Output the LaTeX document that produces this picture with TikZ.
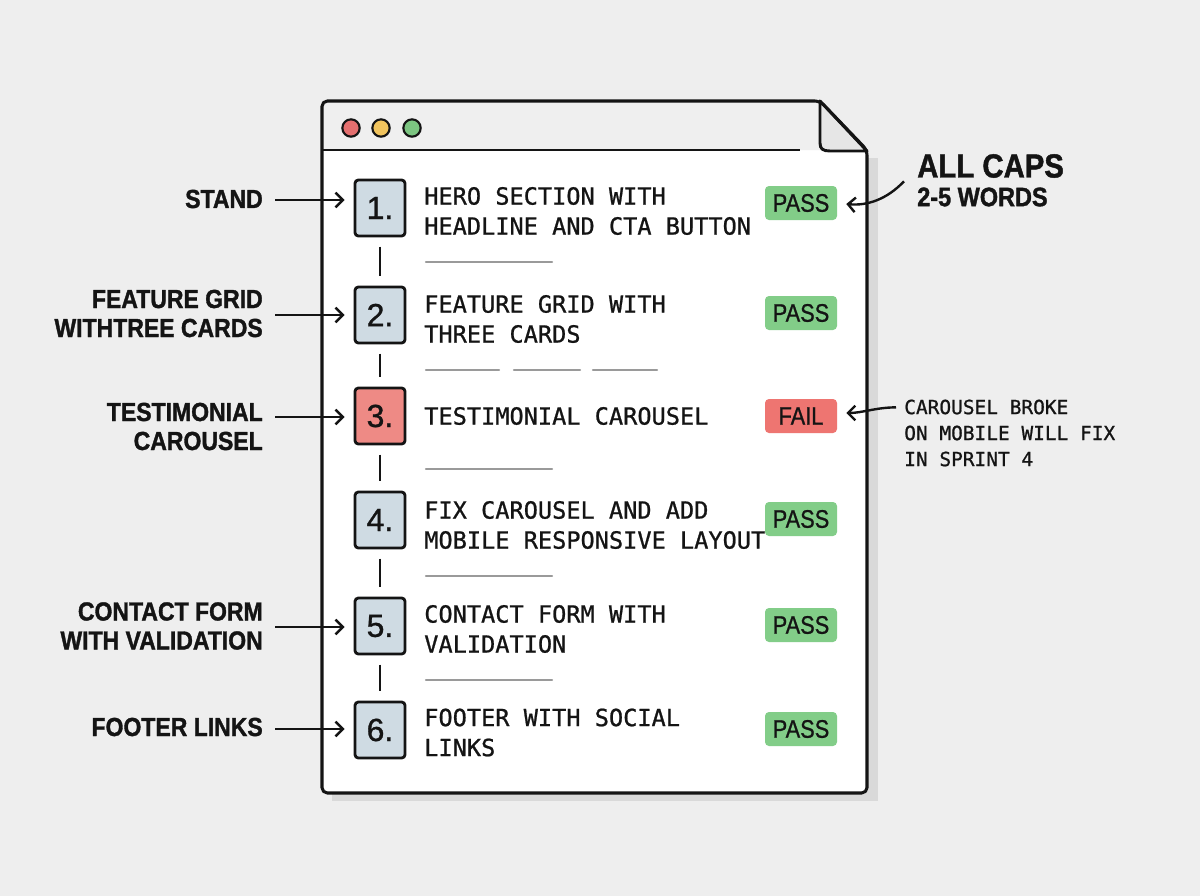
\documentclass[tikz,border=0pt]{standalone}
\usepackage{fontspec}
\usetikzlibrary{arrows.meta,calc}
\newfontfamily\monof{DejaVu Sans Mono}[FakeBold=0.9]
\newfontfamily\lblf{Liberation Sans}[FakeStretch=0.88,FakeBold=1.3]
\newfontfamily\badgef{Liberation Sans}[FakeStretch=0.86,FakeBold=0.9]
\newfontfamily\numf{Liberation Sans}[FakeBold=1.0]
\definecolor{bg}{HTML}{EEEEEE}
\definecolor{titlebg}{HTML}{EFEFEF}
\definecolor{flapc}{HTML}{E6E6E6}
\definecolor{shadowc}{HTML}{D9D9D9}
\definecolor{ink}{HTML}{141414}
\definecolor{boxblue}{HTML}{CFDBE3}
\definecolor{boxred}{HTML}{EE8A85}
\definecolor{passg}{HTML}{82CD88}
\definecolor{failr}{HTML}{EE7571}
\definecolor{dotr}{HTML}{E46F6F}
\definecolor{doty}{HTML}{F1C45E}
\definecolor{dotg}{HTML}{7CC581}
\definecolor{phgray}{HTML}{9A9A9A}
\begin{document}
\begin{tikzpicture}[x=0.75pt,y=-0.75pt,
  numbox/.style={draw=ink, line width=2.1pt, rounded corners=2.5pt, minimum width=37.5pt, minimum height=42pt, inner sep=0pt, text=ink, font=\numf\fontsize{24}{24}\selectfont},
  task/.style={anchor=west, align=left, inner sep=0pt, text=ink, font=\monof\fontsize{17.7}{22.5}\selectfont},
  badge/.style={rounded corners=3pt, minimum width=54pt, minimum height=25.5pt, inner sep=0pt, text=ink, font=\badgef\fontsize{19}{19}\selectfont},
  lbl/.style={anchor=east, align=right, inner sep=0pt, text=ink, font=\lblf\bfseries\fontsize{19.6}{21.75}\selectfont},
  note/.style={anchor=west, align=left, inner sep=0pt, text=ink, font=\monof\fontsize{14.6}{19.5}\selectfont},
  arr/.style={draw=ink, line width=1.8pt, -{Straight Barb[length=5.5pt,width=11pt,line width=1.8pt]}},
  conn/.style={draw=ink, line width=1.9pt},
  ph/.style={draw=phgray, line width=1.7pt, line cap=round},
  dot/.style={draw=ink, line width=1.6pt}
]
% background / bounding box
\fill[bg] (0,0) rectangle (1200,896);
% window shadow
\fill[shadowc] (332,158) -- (878,158) -- (878,801) -- (332,801) -- cycle;
% window body
\fill[white] (322,150) rectangle (867,793);
\fill[titlebg] (322,101) -- (820,101) -- (867,150) -- (322,150) -- cycle;
\filldraw[fill=flapc, draw=ink, line width=2.2pt, line join=round]
  (820,101) -- (820,143) .. controls (820,149) and (823,151) .. (830,151) -- (867,151) -- cycle;
\draw[draw=ink, line width=2.3pt, rounded corners=4pt, line join=round]
  (322,793) -- (322,101) -- (820,101) -- (867,150) -- (867,793) -- cycle;
\draw[ink, line width=2.2pt] (322,150) -- (800,150);
% traffic dots
\filldraw[dot, fill=dotr] (351,128) circle (6.5pt);
\filldraw[dot, fill=doty] (381,128) circle (6.5pt);
\filldraw[dot, fill=dotg] (412,128) circle (6.5pt);

% number boxes
\node[numbox, fill=boxblue] (b1) at (380,208) {1.};
\node[numbox, fill=boxblue] (b2) at (380,315) {2.};
\node[numbox, fill=boxred]  (b3) at (380,416) {3.};
\node[numbox, fill=boxblue] (b4) at (380,520) {4.};
\node[numbox, fill=boxblue] (b5) at (380,626) {5.};
\node[numbox, fill=boxblue] (b6) at (380,730) {6.};
\draw[conn] ([yshift=-7pt]b1.south) -- ([yshift=7pt]b2.north);
\draw[conn] ([yshift=-7pt]b2.south) -- ([yshift=7pt]b3.north);
\draw[conn] ([yshift=-7pt]b3.south) -- ([yshift=7pt]b4.north);
\draw[conn] ([yshift=-7pt]b4.south) -- ([yshift=7pt]b5.north);
\draw[conn] ([yshift=-7pt]b5.south) -- ([yshift=7pt]b6.north);

% task texts
\node[task] (t1) at (424,211) {HERO SECTION WITH\\HEADLINE AND CTA BUTTON};
\node[task] (t2) at (424,319) {FEATURE GRID WITH\\THREE CARDS};
\node[task] (t3) at (424,416) {TESTIMONIAL CAROUSEL};
\node[task] (t4) at (424,525) {FIX CAROUSEL AND ADD\\MOBILE RESPONSIVE LAYOUT};
\node[task] (t5) at (424,629) {CONTACT FORM WITH\\VALIDATION};
\node[task] (t6) at (424,732.5) {FOOTER WITH SOCIAL\\LINKS};

% placeholder lines
\draw[ph] (426,262) -- (552,262);
\draw[ph] (426,370) -- (499,370);
\draw[ph] (514,370) -- (580,370);
\draw[ph] (593,370) -- (657,370);
\draw[ph] (426,469) -- (552,469);
\draw[ph] (426,576) -- (552,576);
\draw[ph] (426,680) -- (552,680);

% status badges
\node[badge, fill=passg] (s1) at (801,203) {PASS};
\node[badge, fill=passg] (s2) at (801,313) {PASS};
\node[badge, fill=failr] (s3) at (801,416) {FAIL};
\node[badge, fill=passg] (s4) at (801,519) {PASS};
\node[badge, fill=passg] (s5) at (801,625) {PASS};
\node[badge, fill=passg] (s6) at (801,729) {PASS};

% left labels
\node[lbl] (l1) at (263,199) {STAND};
\node[lbl] (l2) at (263,313.5) {FEATURE GRID\\WITHTREE CARDS};
\node[lbl] (l3) at (263,426.5) {TESTIMONIAL\\CAROUSEL};
\node[lbl] (l5) at (263,626) {CONTACT FORM\\WITH VALIDATION};
\node[lbl] (l6) at (263,727) {FOOTER LINKS};
\draw[arr] ($(l1.east)+(12,1)$) -- ($(b1.west|-l1.east)+(-9,1)$);
\draw[arr] ($(l2.east|-b2.west)+(12,0)$) -- ($(b2.west)+(-9,0)$);
\draw[arr] ($(l3.east|-b3.west)+(12,1)$) -- ($(b3.west)+(-9,1)$);
\draw[arr] ($(l5.east|-b5.west)+(12,1)$) -- ($(b5.west)+(-9,1)$);
\draw[arr] ($(l6.east|-b6.west)+(12,-1)$) -- ($(b6.west)+(-9,-1)$);

% right annotations
\node[anchor=west, inner sep=0pt, text=ink, font=\lblf\bfseries\fontsize{25}{25}\selectfont] (cap1) at (917,166) {ALL CAPS};
\node[anchor=west, inner sep=0pt, text=ink, font=\lblf\bfseries\fontsize{20}{20}\selectfont] (cap2) at (917,197) {2-5 WORDS};
\draw[arr] ($(cap2.north west)+(-13,-6)$) .. controls ($(cap2.north west)+(-30,12)$) and ($(s1.east)+(30,3)$) .. ($(s1.east)+(9,1)$);

\node[note] (n3) at (904,433) {CAROUSEL BROKE\\ON MOBILE WILL FIX\\IN SPRINT 4};
\draw[arr] ($(n3.north west)+(-8,8)$) .. controls ($(n3.north west)+(-28,8)$) and ($(s3.east)+(25,-3)$) .. ($(s3.east)+(9,-3)$);
\end{tikzpicture}
\end{document}
